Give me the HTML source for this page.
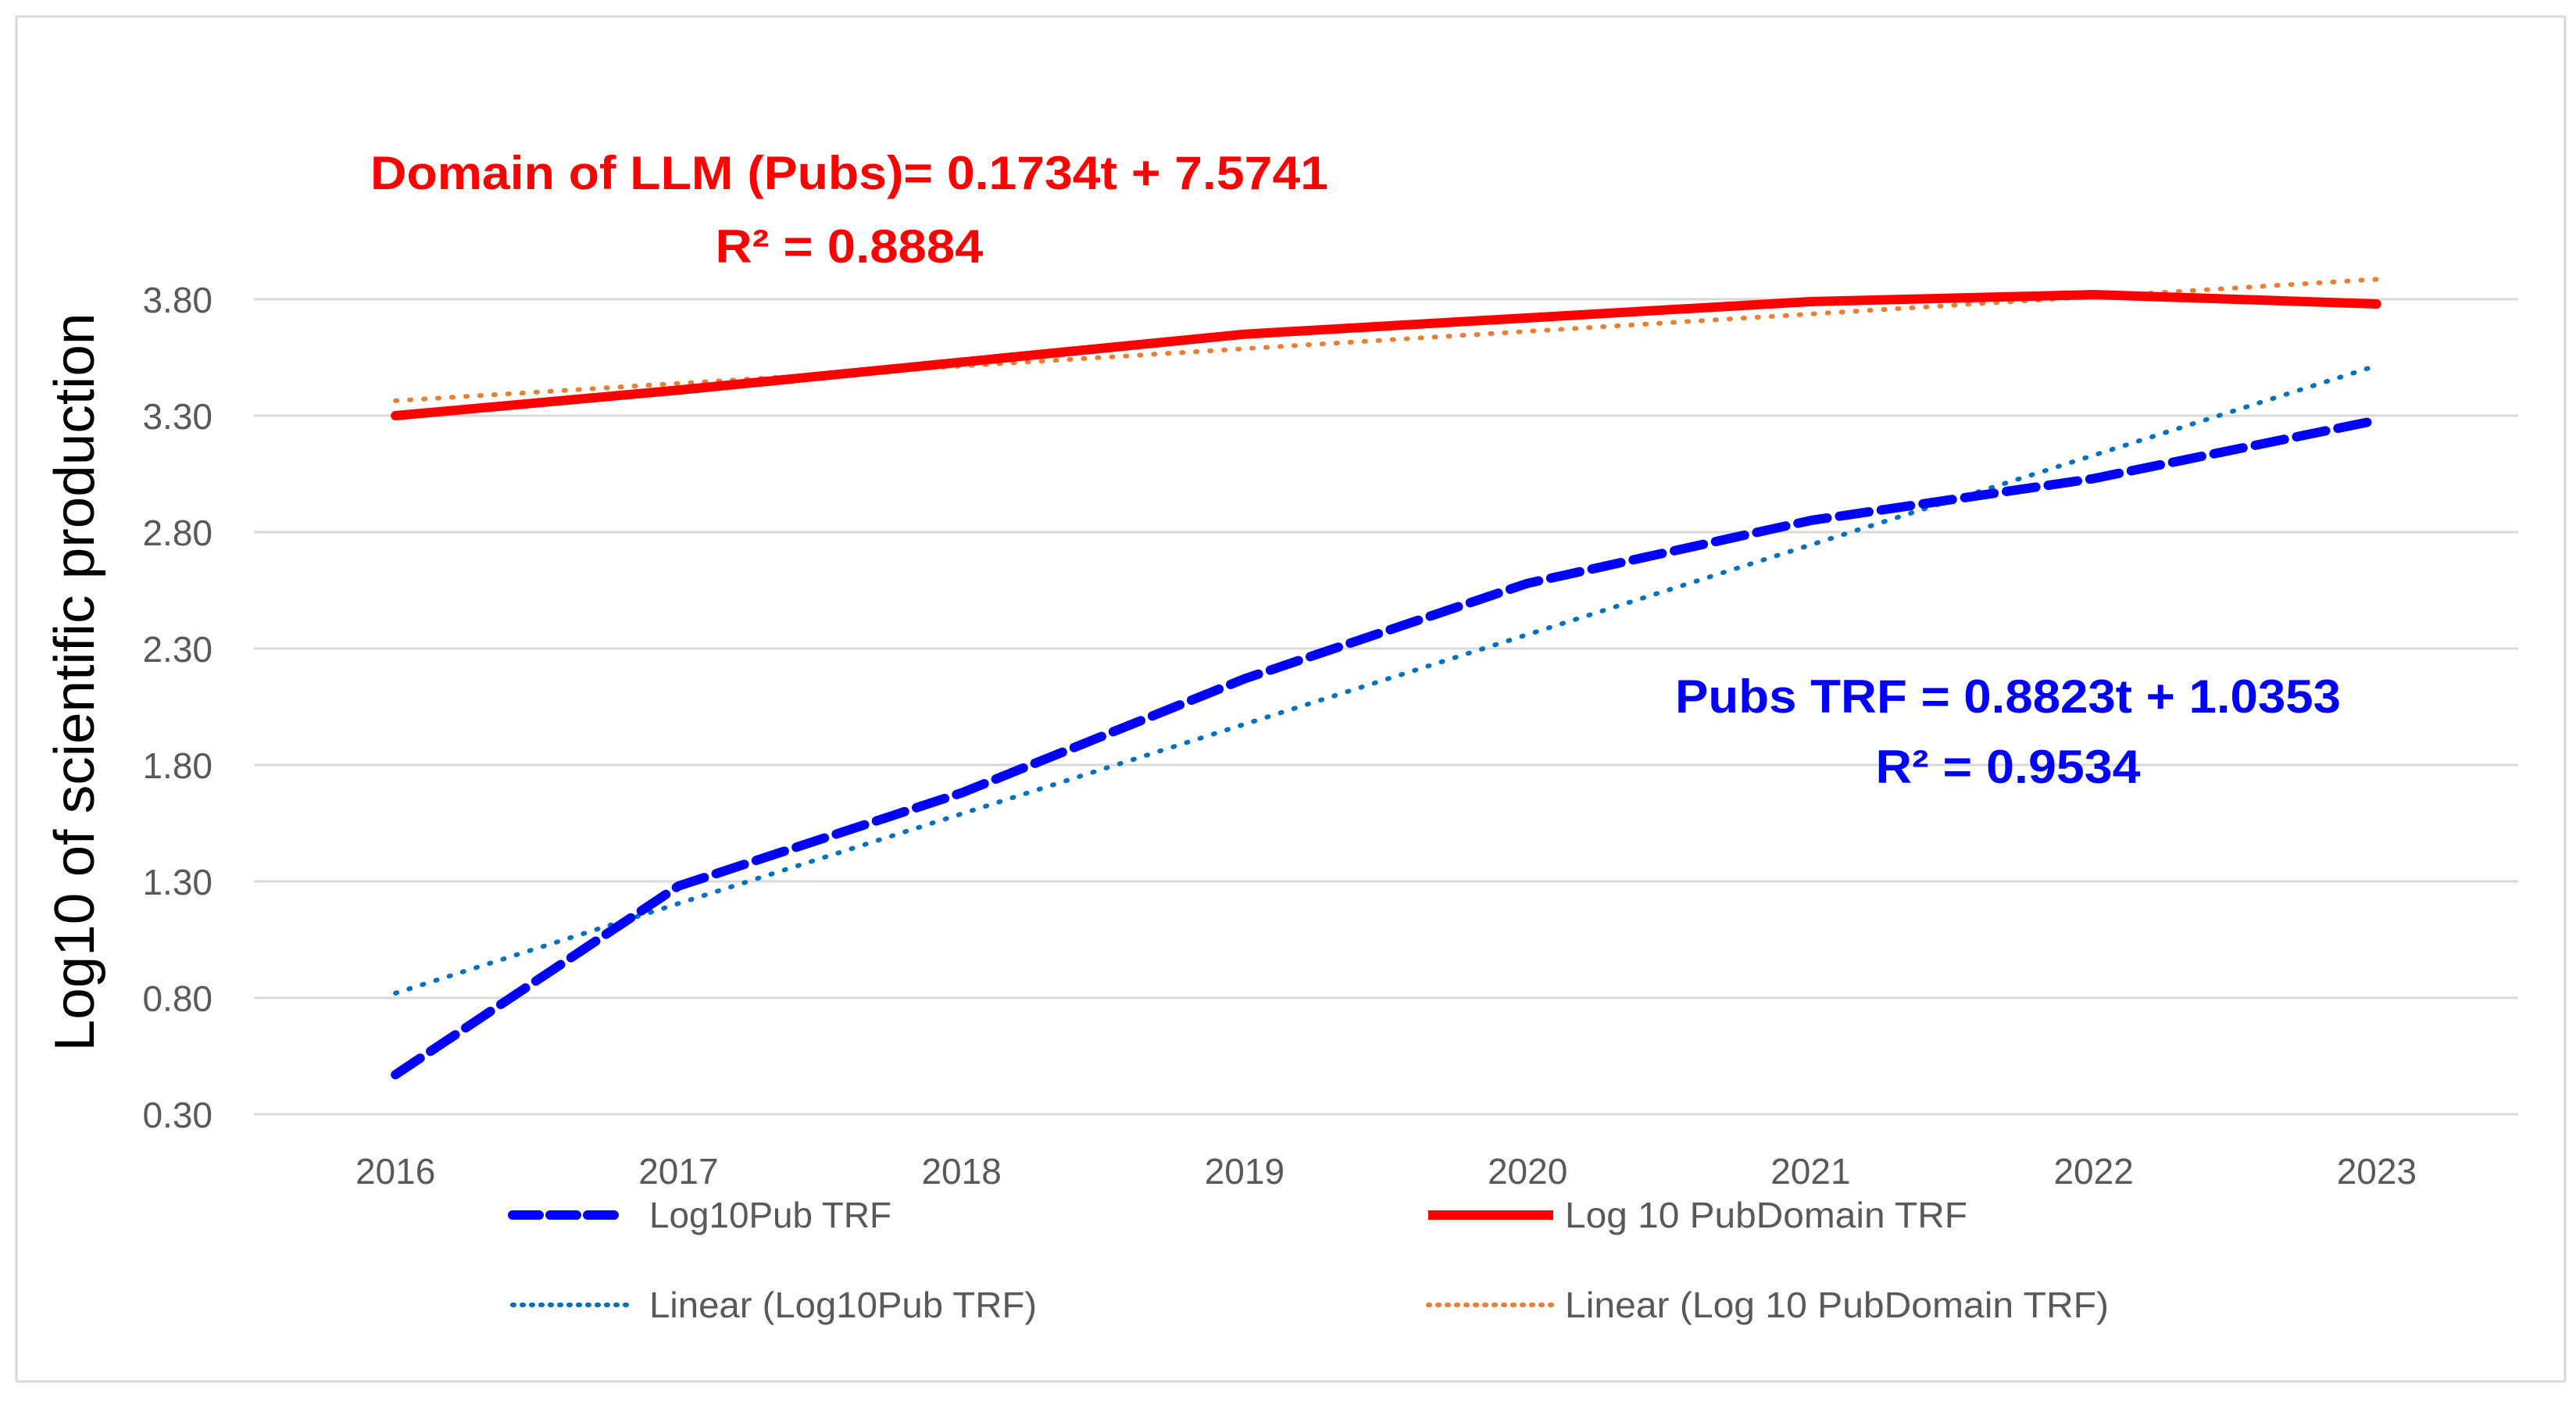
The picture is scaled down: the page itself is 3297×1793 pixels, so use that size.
<!DOCTYPE html>
<html><head><meta charset="utf-8"><style>
html,body{margin:0;padding:0;background:#fff}
svg{display:block}
text{font-family:"Liberation Sans",sans-serif}
</style></head><body>
<svg id="chart" width="3297" height="1793" xmlns="http://www.w3.org/2000/svg">
<rect x="21" y="21" width="3262" height="1747" fill="#fff" stroke="#d9d9d9" stroke-width="3"/>
<g id="grid"></g><g id="yticks"></g><g id="xticks"></g><g id="series"></g>
<text x="120" y="873" font-size="72" fill="#000" text-anchor="middle" textLength="945" lengthAdjust="spacingAndGlyphs" transform="rotate(-90 120 873)">Log10 of scientific production</text>
<text x="1087" y="242" font-size="60" font-weight="bold" fill="#ff0000" text-anchor="middle" textLength="1226" lengthAdjust="spacingAndGlyphs">Domain of LLM (Pubs)= 0.1734t + 7.5741</text>
<text x="1087" y="336" font-size="60" font-weight="bold" fill="#ff0000" text-anchor="middle" textLength="343" lengthAdjust="spacingAndGlyphs">R² = 0.8884</text>
<text x="2570" y="912" font-size="60" font-weight="bold" fill="#0000ff" text-anchor="middle" textLength="852" lengthAdjust="spacingAndGlyphs">Pubs TRF = 0.8823t + 1.0353</text>
<text x="2570" y="1002" font-size="60" font-weight="bold" fill="#0000ff" text-anchor="middle" textLength="339" lengthAdjust="spacingAndGlyphs">R² = 0.9534</text>
<g>
<line x1="656" y1="1555" x2="800" y2="1555" stroke="#0000ff" stroke-width="12" stroke-dasharray="34,14" stroke-linecap="round"/>
<text x="831" y="1571" font-size="46" fill="#595959" textLength="310" lengthAdjust="spacingAndGlyphs">Log10Pub TRF</text>
<line x1="1828" y1="1555" x2="1988" y2="1555" stroke="#ff0000" stroke-width="12"/>
<text x="2003" y="1571" font-size="46" fill="#595959" textLength="515" lengthAdjust="spacingAndGlyphs">Log 10 PubDomain TRF</text>
<line x1="656" y1="1670" x2="812" y2="1670" stroke="#0070c0" stroke-width="6" stroke-dasharray="2,10" stroke-linecap="round"/>
<text x="831" y="1686" font-size="46" fill="#595959" textLength="496" lengthAdjust="spacingAndGlyphs">Linear (Log10Pub TRF)</text>
<line x1="1828" y1="1670" x2="1988" y2="1670" stroke="#ed7d31" stroke-width="6" stroke-dasharray="2,10" stroke-linecap="round"/>
<text x="2003" y="1686" font-size="46" fill="#595959" textLength="696" lengthAdjust="spacingAndGlyphs">Linear (Log 10 PubDomain TRF)</text>
</g>
</svg>
<script>
const years = ['2016','2017','2018','2019','2020','2021','2022','2023'];
const pubTRF = [0.47,1.28,1.68,2.17,2.58,2.85,3.03,3.28];
const domainTRF = [3.30,3.41,3.53,3.65,3.72,3.79,3.82,3.78];
const yTicks = [0.30,0.80,1.30,1.80,2.30,2.80,3.30,3.80];
const NS='http://www.w3.org/2000/svg';
const left=325,right=3223,band=(right-left)/years.length;
function xPos(i){return left+band/2+i*band;}
function yPos(v){return 1426-(v-0.30)*(1426-383)/3.5;}
function mk(tag,attrs,parent){const e=document.createElementNS(NS,tag);for(const k in attrs)e.setAttribute(k,attrs[k]);document.getElementById(parent).appendChild(e);return e;}
yTicks.forEach(t=>{
  const g=mk('line',{x1:left,x2:right,y1:yPos(t),y2:yPos(t),stroke:'#d9d9d9','stroke-width':3},'grid');
  
  
  const l=mk('text',{x:272,y:yPos(t)+17,'font-size':46,fill:'#595959','text-anchor':'end'},'yticks');
  l.textContent=t.toFixed(2);
  
  
});
years.forEach((y,i)=>{
  const l=mk('text',{x:xPos(i),y:1515,'font-size':46,fill:'#595959','text-anchor':'middle'},'xticks');
  l.textContent=y;
  
  
});
function fit(vals){const n=vals.length,mx=(n-1)/2;let my=0;vals.forEach(v=>my+=v);my/=n;let sxy=0,sxx=0;vals.forEach((v,i)=>{sxy+=(i-mx)*(v-my);sxx+=(i-mx)*(i-mx);});const b=sxy/sxx;return vals.map((v,i)=>my+b*(i-mx));}
function pts(vals){return vals.map((v,i)=>xPos(i)+','+yPos(v)).join(' ');}
const t1=mk('polyline',{points:pts(fit(domainTRF)),fill:'none',stroke:'#ed7d31','stroke-width':6,'stroke-dasharray':'2,16','stroke-linecap':'round'},'series');


const t2=mk('polyline',{points:pts(fit(pubTRF)),fill:'none',stroke:'#0070c0','stroke-width':6,'stroke-dasharray':'2,16','stroke-linecap':'round'},'series');


const s1=mk('polyline',{points:pts(domainTRF),fill:'none',stroke:'#ff0000','stroke-width':12,'stroke-linejoin':'round','stroke-linecap':'round'},'series');


const s2=mk('polyline',{points:pts(pubTRF),fill:'none',stroke:'#0000ff','stroke-width':12,'stroke-dasharray':'38,16','stroke-linejoin':'round','stroke-linecap':'round'},'series');


</script>
</body></html>
